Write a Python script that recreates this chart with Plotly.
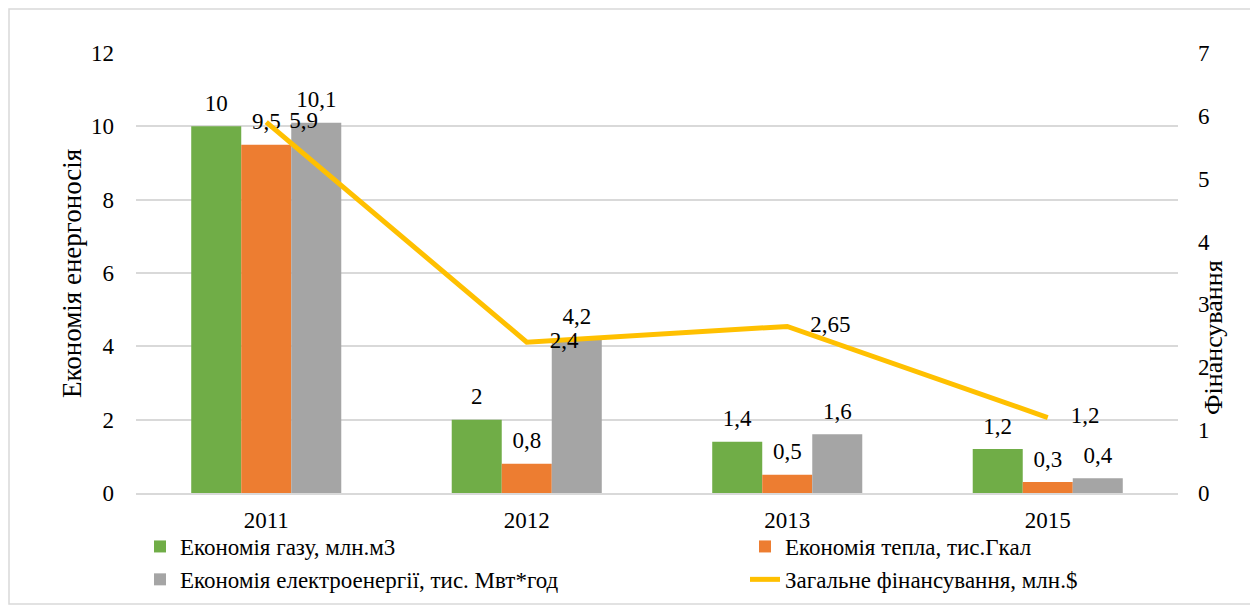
import plotly.graph_objects as go

years = ["2011", "2012", "2013", "2015"]
gas = [10, 2, 1.4, 1.2]
heat = [9.5, 0.8, 0.5, 0.3]
power = [10.1, 4.2, 1.6, 0.4]
funding = [5.9, 2.4, 2.65, 1.2]

names = ["Економія газу, млн.м3", "Економія тепла, тис.Гкал",
         "Економія електроенергії, тис. Мвт*год", "Загальне фінансування, млн.$"]
colors = ["#70AD47", "#ED7D31", "#A5A5A5", "#FFC000"]
legend_of = ["legend", "legend2", "legend", "legend2"]

FONT = "'Liberation Serif', 'Times New Roman', 'DejaVu Serif', serif"
FS = 23
GAP = 0.424

# the page body adds an 8px margin around the figure
OFF = 8
W, H = 1258 - OFF, 607 - OFF
# plot area in screen pixels
PL, PR, PT, PB = 136, 1178, 53, 493
L, T = PL - OFF, PT - OFF
R, B = (W + OFF) - PR, (H + OFF) - PB
pw, ph = PR - PL, PB - PT


def fmt(v):
    return str(v).replace(".", ",")


def px_x(x):
    return (x - PL) / pw


def px_y(y):
    return (PB - y) / ph


fig = go.Figure()
series = [gas, heat, power]
for i, (vals, name, col, lg) in enumerate(zip(series, names[:3], colors[:3], legend_of[:3])):
    fig.add_trace(go.Bar(
        x=years, y=vals, name=name, legend=lg, offsetgroup=str(i),
        marker=dict(color=col, line=dict(width=0)),
    ))
# value labels, grouped with the same offsets as the bars
for i, vals in enumerate(series):
    fig.add_trace(go.Scatter(
        x=years, y=vals, mode="markers+text", orientation="v", offsetgroup=str(i),
        marker=dict(size=14, opacity=0), text=[fmt(v) for v in vals],
        textposition="top center", showlegend=False, hoverinfo="skip",
        textfont=dict(family=FONT, size=FS, color="black"), cliponaxis=False,
    ))

# funding line sits in the middle group, i.e. at the category centre
fig.add_trace(go.Scatter(
    x=years, y=funding, name=names[3], yaxis="y2", mode="lines+text", legend=legend_of[3],
    orientation="v", offsetgroup="1",
    line=dict(color=colors[3], width=5),
    text=["\u00a0\u00a0\u00a0\u00a0" + fmt(v) for v in funding],
    textposition="middle right",
    textfont=dict(family=FONT, size=FS, color="black"), cliponaxis=False,
))

legend_common = dict(orientation="v", xanchor="left", yanchor="top",
                     font=dict(family=FONT, size=FS, color="black"), bgcolor="rgba(0,0,0,0)",
                     traceorder="normal", tracegroupgap=0)

fig.update_layout(
    width=W, height=H,
    margin=dict(l=L, r=R, t=T, b=B, autoexpand=False),
    plot_bgcolor="white", paper_bgcolor="white",
    font=dict(family=FONT, size=FS, color="black"),
    barmode="group", bargap=GAP, bargroupgap=0,
    scattermode="group", scattergap=GAP,
    xaxis=dict(type="category", showgrid=False, showline=True, linecolor="#d9d9d9",
               linewidth=1.5, ticks="", ticklabelstandoff=6,
               tickfont=dict(family=FONT, size=FS, color="black")),
    yaxis=dict(range=[0, 12], dtick=2, showgrid=True, gridcolor="#d9d9d9", gridwidth=1.5,
               zeroline=False, showline=False, ticks="", ticklabelstandoff=21,
               tickfont=dict(family=FONT, size=FS, color="black")),
    yaxis2=dict(range=[0, 7], dtick=1, overlaying="y", side="right", showgrid=False,
                zeroline=False, showline=False, ticks="", ticklabelstandoff=19,
                tickfont=dict(family=FONT, size=FS, color="black")),
    showlegend=True,
    legend=dict(x=px_x(140), y=px_y(525), **legend_common),
    legend2=dict(x=px_x(745), y=px_y(525), **legend_common),
    annotations=[
        dict(text="Економія енергоносія", xref="paper", yref="paper",
             x=px_x(72), y=px_y(274), textangle=-90, showarrow=False,
             font=dict(family=FONT, size=27, color="black"), xanchor="center", yanchor="middle"),
        dict(text="Фінансування", xref="paper", yref="paper",
             x=px_x(1213), y=px_y(338), textangle=-90, showarrow=False,
             font=dict(family=FONT, size=26, color="black"), xanchor="center", yanchor="middle"),
    ],
    shapes=[
        dict(type="rect", xref="paper", yref="paper",
             x0=px_x(OFF + 1), x1=px_x(1251), y0=px_y(604), y1=px_y(OFF + 1),
             line=dict(color="#d9d9d9", width=1.5), fillcolor="rgba(0,0,0,0)", layer="below"),
    ],
)

fig.write_html("out.html")
